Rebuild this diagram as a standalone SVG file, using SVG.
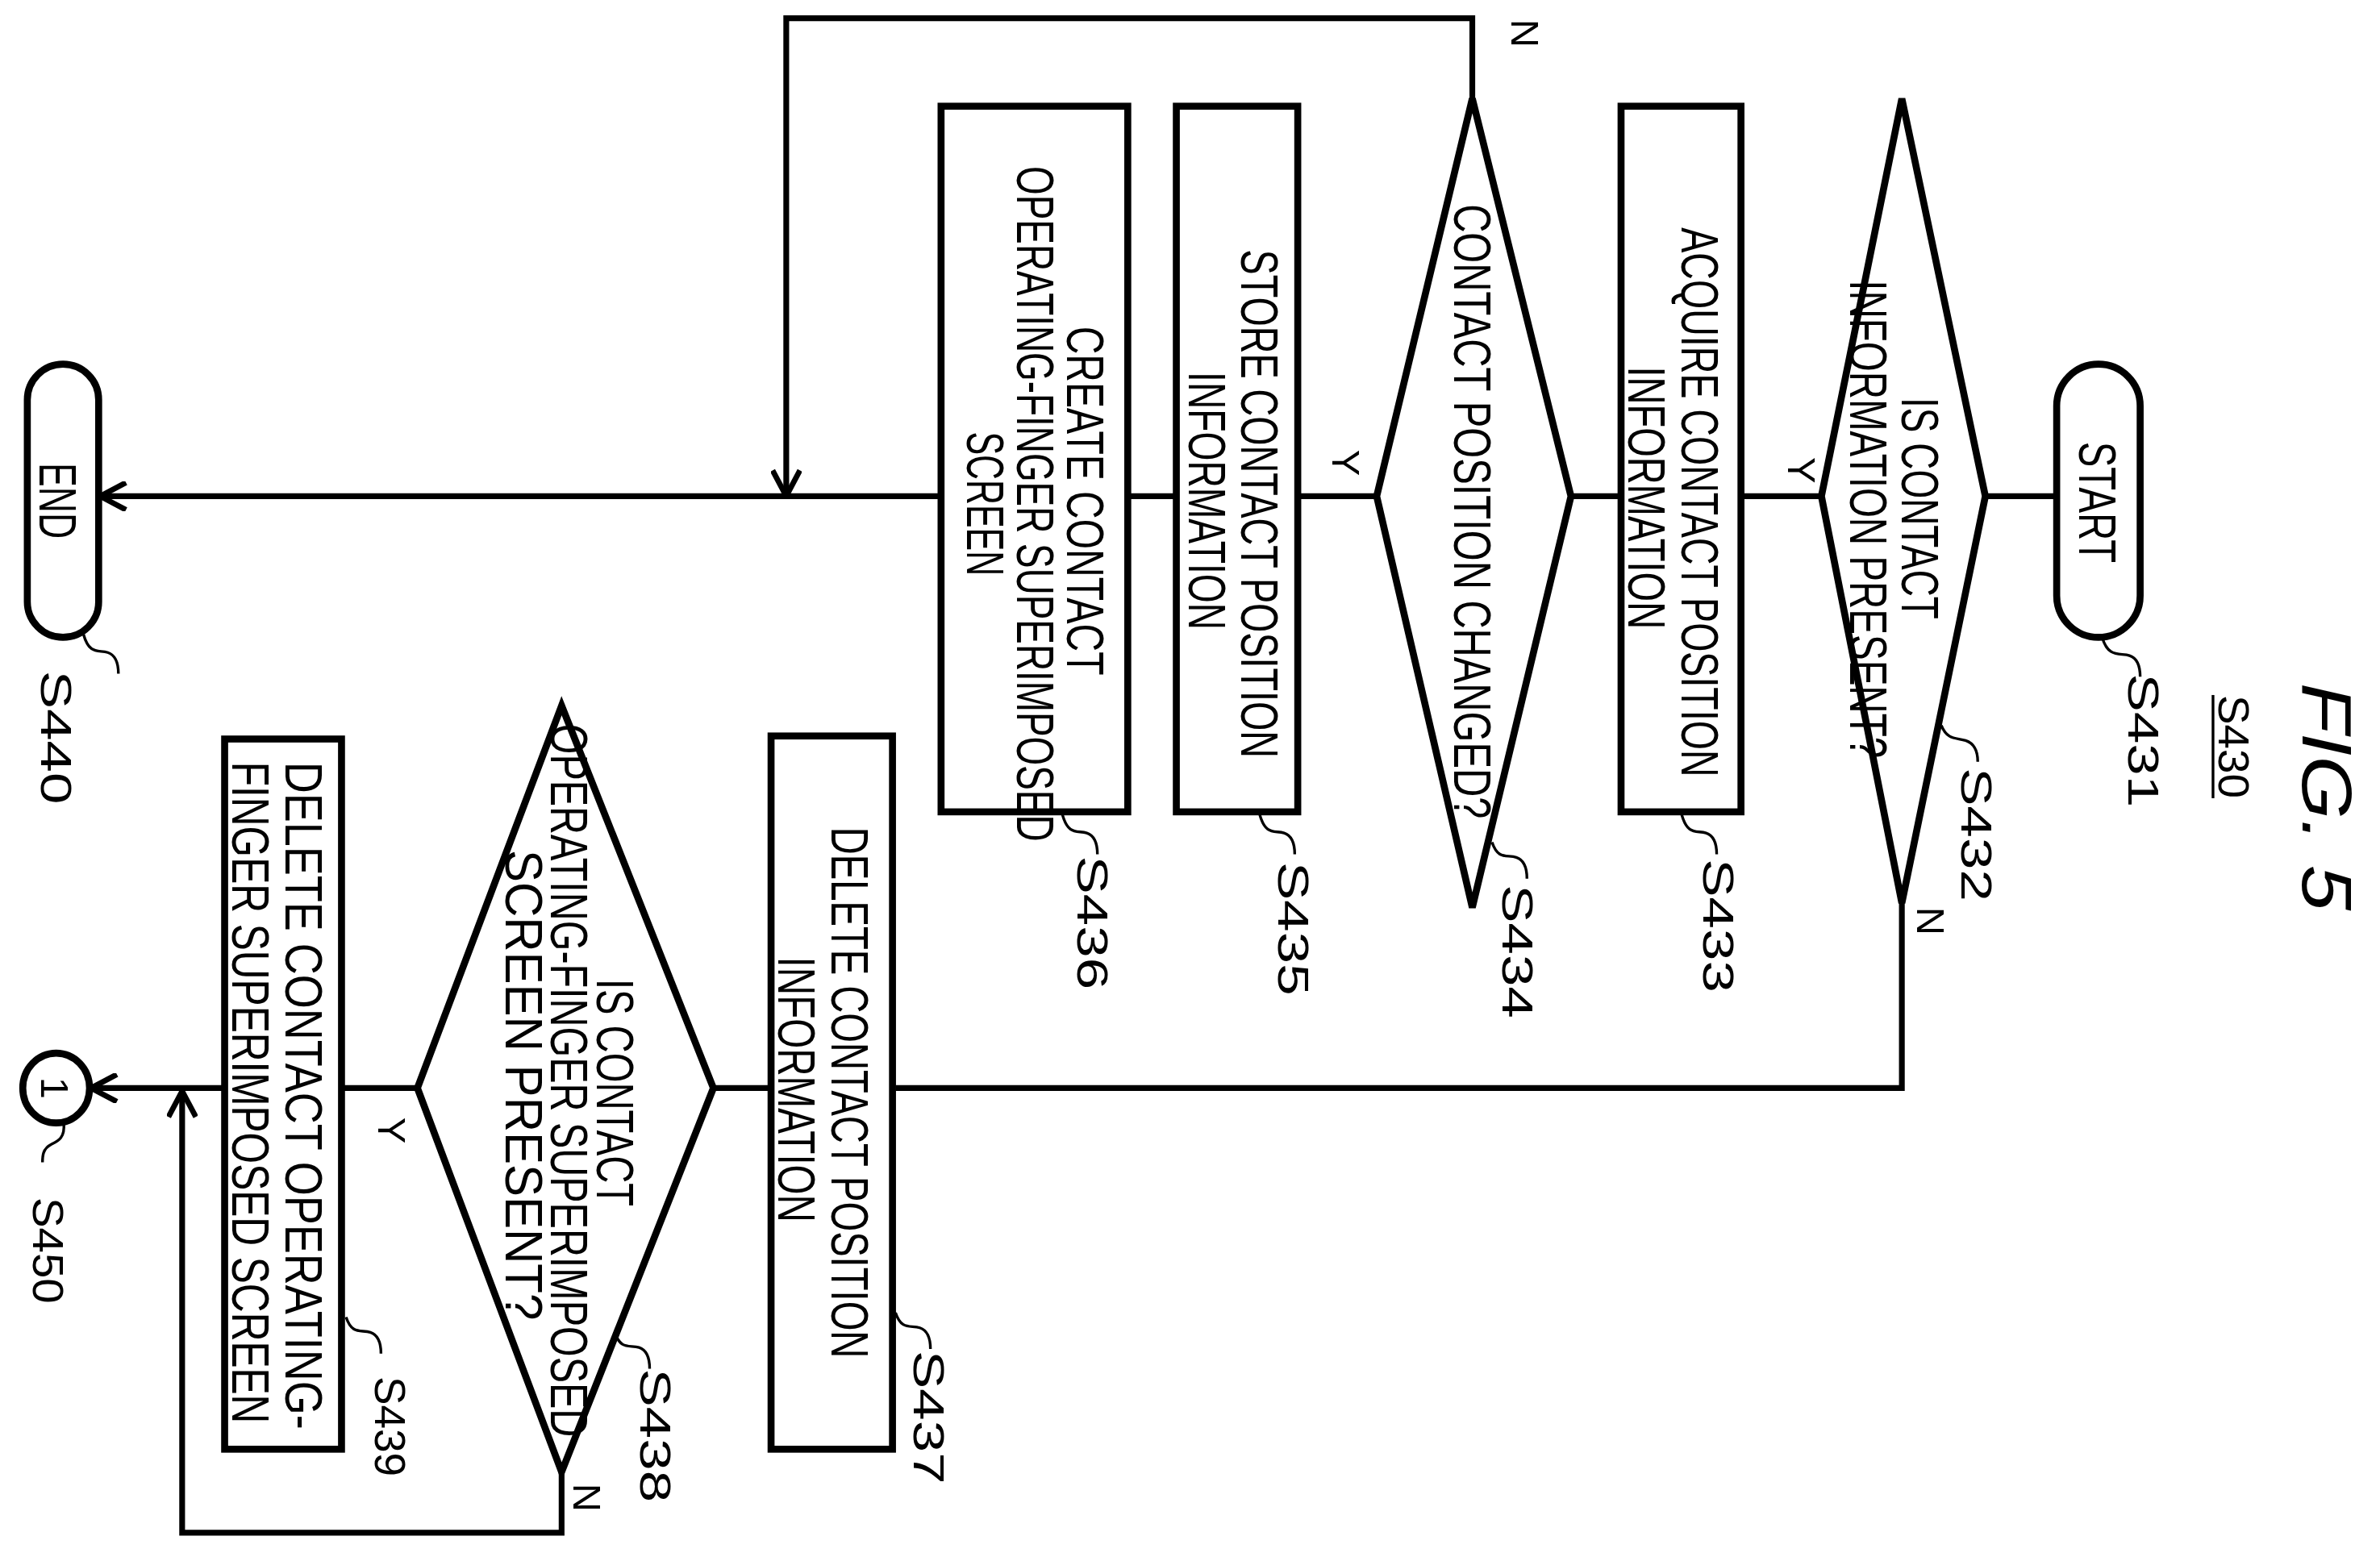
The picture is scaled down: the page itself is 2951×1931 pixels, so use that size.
<svg xmlns="http://www.w3.org/2000/svg" width="2951" height="1931" viewBox="0 0 2951 1931">
<style>
.s{fill:none;stroke:#000;stroke-width:4.6;stroke-linejoin:miter}
.l{fill:none;stroke:#000;stroke-width:3.8}
.ld{fill:none;stroke:#000;stroke-width:1.8}
text{font-family:"Liberation Sans Narrow","Liberation Sans",sans-serif;font-size:34px;fill:#000;text-anchor:middle}
.sm{font-size:26px}
.lb{font-size:29px}
</style>
<defs>
<marker id="a" viewBox="0 0 20 20" refX="19" refY="10" markerWidth="20" markerHeight="20" markerUnits="userSpaceOnUse" orient="auto">
<path d="M2,1 L19,10 L2,19" fill="none" stroke="#000" stroke-width="3.6"/>
</marker>
</defs>
<rect width="2951" height="1931" fill="#fff"/>
<g transform="scale(1.882)">
<g id="title">
<text transform="translate(1517,525) rotate(90)" style="font-size:46px;font-style:italic" textLength="150" lengthAdjust="spacingAndGlyphs">FIG. 5</text>
<text class="lb" transform="translate(1462,492) rotate(90)" textLength="68" lengthAdjust="spacingAndGlyphs">S430</text>
<line x1="1458" y1="458" x2="1458" y2="526" class="ld" stroke-width="2.2"/>
</g>
<g id="connectors">
<path class="l" d="M1355,327 H1308 M1200,327 H1147 M1068,327 H1035 M907,327 H855 M775,327 H743"/>
<path class="l" d="M620,327 H66" marker-end="url(#a)"/>
<path class="l" d="M970,65 V12 H518 V327" marker-end="url(#a)"/>
<path class="l" d="M1253,595 V717 H590"/>
<path class="l" d="M508,717 H470 M275,717 H225"/>
<path class="l" d="M148,717 H60" marker-end="url(#a)"/>
<path class="l" d="M370,970 V1010 H120 V719" marker-end="url(#a)"/>
<text class="sm" transform="translate(1178,310) rotate(90)">Y</text>
<text class="sm" transform="translate(1263,607) rotate(90)">N</text>
<text class="sm" transform="translate(878,305) rotate(90)">Y</text>
<text class="sm" transform="translate(996,22) rotate(90)">N</text>
<text class="sm" transform="translate(249,745) rotate(90)">Y</text>
<text class="sm" transform="translate(378,987) rotate(90)">N</text>
</g>
<g id="S431">
<rect class="s" x="1355" y="240" width="55" height="180" rx="27.5"/>
<text transform="translate(1370,331) rotate(90)" textLength="80" lengthAdjust="spacingAndGlyphs">START</text>
<path class="ld" d="M1385,420 c4,14 12,10 18,12 c6,2 7,8 7,14"/>
<text class="lb" transform="translate(1402,488) rotate(90)" textLength="88" lengthAdjust="spacingAndGlyphs">S431</text>
</g>
<g id="S432">
<polygon class="s" points="1253,65 1308,327 1253,595 1200,327"/>
<text transform="translate(1253,335) rotate(90)" textLength="146" lengthAdjust="spacingAndGlyphs">IS CONTACT</text>
<text transform="translate(1219,342) rotate(90)" textLength="315" lengthAdjust="spacingAndGlyphs">INFORMATION PRESENT?</text>
<path class="ld" d="M1279,478 c4,10 10,8 16,10 c6,2 8,8 8,14"/>
<text class="lb" transform="translate(1292,550) rotate(90)" textLength="88" lengthAdjust="spacingAndGlyphs">S432</text>
</g>
<g id="S433">
<rect class="s" x="1068" y="70" width="79" height="465"/>
<text transform="translate(1108,331) rotate(90)" textLength="362" lengthAdjust="spacingAndGlyphs">ACQUIRE CONTACT POSITION</text>
<text transform="translate(1073,328) rotate(90)" textLength="173" lengthAdjust="spacingAndGlyphs">INFORMATION</text>
<path class="ld" d="M1108,537 c4,14 10,10 16,12 c6,2 7,8 7,14"/>
<text class="lb" transform="translate(1122,610) rotate(90)" textLength="88" lengthAdjust="spacingAndGlyphs">S433</text>
</g>
<g id="S434">
<polygon class="s" points="970,65 1035,327 970,598 907,327"/>
<text transform="translate(958,337) rotate(90)" textLength="405" lengthAdjust="spacingAndGlyphs">CONTACT POSITION CHANGED?</text>
<path class="ld" d="M983,555 c4,12 10,8 16,10 c6,2 7,8 7,14"/>
<text class="lb" transform="translate(990,627) rotate(90)" textLength="88" lengthAdjust="spacingAndGlyphs">S434</text>
</g>
<g id="S435">
<rect class="s" x="775" y="70" width="80" height="465"/>
<text transform="translate(818,332) rotate(90)" textLength="335" lengthAdjust="spacingAndGlyphs">STORE CONTACT POSITION</text>
<text transform="translate(783,330) rotate(90)" textLength="170" lengthAdjust="spacingAndGlyphs">INFORMATION</text>
<path class="ld" d="M830,537 c4,14 10,10 16,12 c6,2 7,8 7,14"/>
<text class="lb" transform="translate(842,612) rotate(90)" textLength="88" lengthAdjust="spacingAndGlyphs">S435</text>
</g>
<g id="S436">
<rect class="s" x="620" y="70" width="123" height="465"/>
<text transform="translate(703,330) rotate(90)" textLength="230" lengthAdjust="spacingAndGlyphs">CREATE CONTACT</text>
<text transform="translate(670,332) rotate(90)" textLength="445" lengthAdjust="spacingAndGlyphs">OPERATING-FINGER SUPERIMPOSED</text>
<text transform="translate(637,332) rotate(90)" textLength="95" lengthAdjust="spacingAndGlyphs">SCREEN</text>
<path class="ld" d="M700,537 c4,14 10,10 16,12 c6,2 7,8 7,14"/>
<text class="lb" transform="translate(710,608) rotate(90)" textLength="88" lengthAdjust="spacingAndGlyphs">S436</text>
</g>
<g id="S440">
<rect class="s" x="18" y="240" width="47" height="180" rx="23.5"/>
<text transform="translate(26,330) rotate(90)" textLength="50" lengthAdjust="spacingAndGlyphs">END</text>
<path class="ld" d="M55,418 c4,14 10,10 16,12 c6,2 7,8 7,14"/>
<text class="lb" transform="translate(27,486) rotate(90)" textLength="88" lengthAdjust="spacingAndGlyphs">S440</text>
</g>
<g id="S437">
<rect class="s" x="508" y="485" width="80" height="470"/>
<text transform="translate(548,720) rotate(90)" textLength="350" lengthAdjust="spacingAndGlyphs">DELETE CONTACT POSITION</text>
<text transform="translate(513,718) rotate(90)" textLength="175" lengthAdjust="spacingAndGlyphs">INFORMATION</text>
<path class="ld" d="M590,865 c4,12 10,8 16,10 c6,2 7,8 7,14"/>
<text class="lb" transform="translate(602,934) rotate(90)" textLength="88" lengthAdjust="spacingAndGlyphs">S437</text>
</g>
<g id="S438">
<polygon class="s" points="370,465 470,717 370,970 275,717"/>
<text transform="translate(393,720) rotate(90)" textLength="150" lengthAdjust="spacingAndGlyphs">IS CONTACT</text>
<text transform="translate(363,712) rotate(90)" textLength="470" lengthAdjust="spacingAndGlyphs">OPERATING-FINGER SUPERIMPOSED</text>
<text transform="translate(333,715) rotate(90)" textLength="310" lengthAdjust="spacingAndGlyphs">SCREEN PRESENT?</text>
<path class="ld" d="M405,878 c4,12 10,8 16,10 c6,2 7,8 7,14"/>
<text class="lb" transform="translate(422,946) rotate(90)" textLength="88" lengthAdjust="spacingAndGlyphs">S438</text>
</g>
<g id="S439">
<rect class="s" x="148" y="487" width="77" height="468"/>
<text transform="translate(188,722) rotate(90)" textLength="440" lengthAdjust="spacingAndGlyphs">DELETE CONTACT OPERATING-</text>
<text transform="translate(153,720) rotate(90)" textLength="436" lengthAdjust="spacingAndGlyphs">FINGER SUPERIMPOSED SCREEN</text>
<path class="ld" d="M228,868 c4,12 10,8 16,10 c6,2 7,8 7,14"/>
<text class="lb" transform="translate(247,940) rotate(90)" textLength="66" lengthAdjust="spacingAndGlyphs">S439</text>
</g>
<g id="S450">
<ellipse class="s" cx="37" cy="717" rx="22" ry="23"/>
<text transform="translate(27,717) rotate(90)" class="sm">1</text>
<path class="ld" d="M42,740 c1,10 -4,12 -8,14 c-6,3 -6,8 -6,12"/>
<text class="lb" transform="translate(22,824) rotate(90)" textLength="70" lengthAdjust="spacingAndGlyphs">S450</text>
</g>
</g>
</svg>
